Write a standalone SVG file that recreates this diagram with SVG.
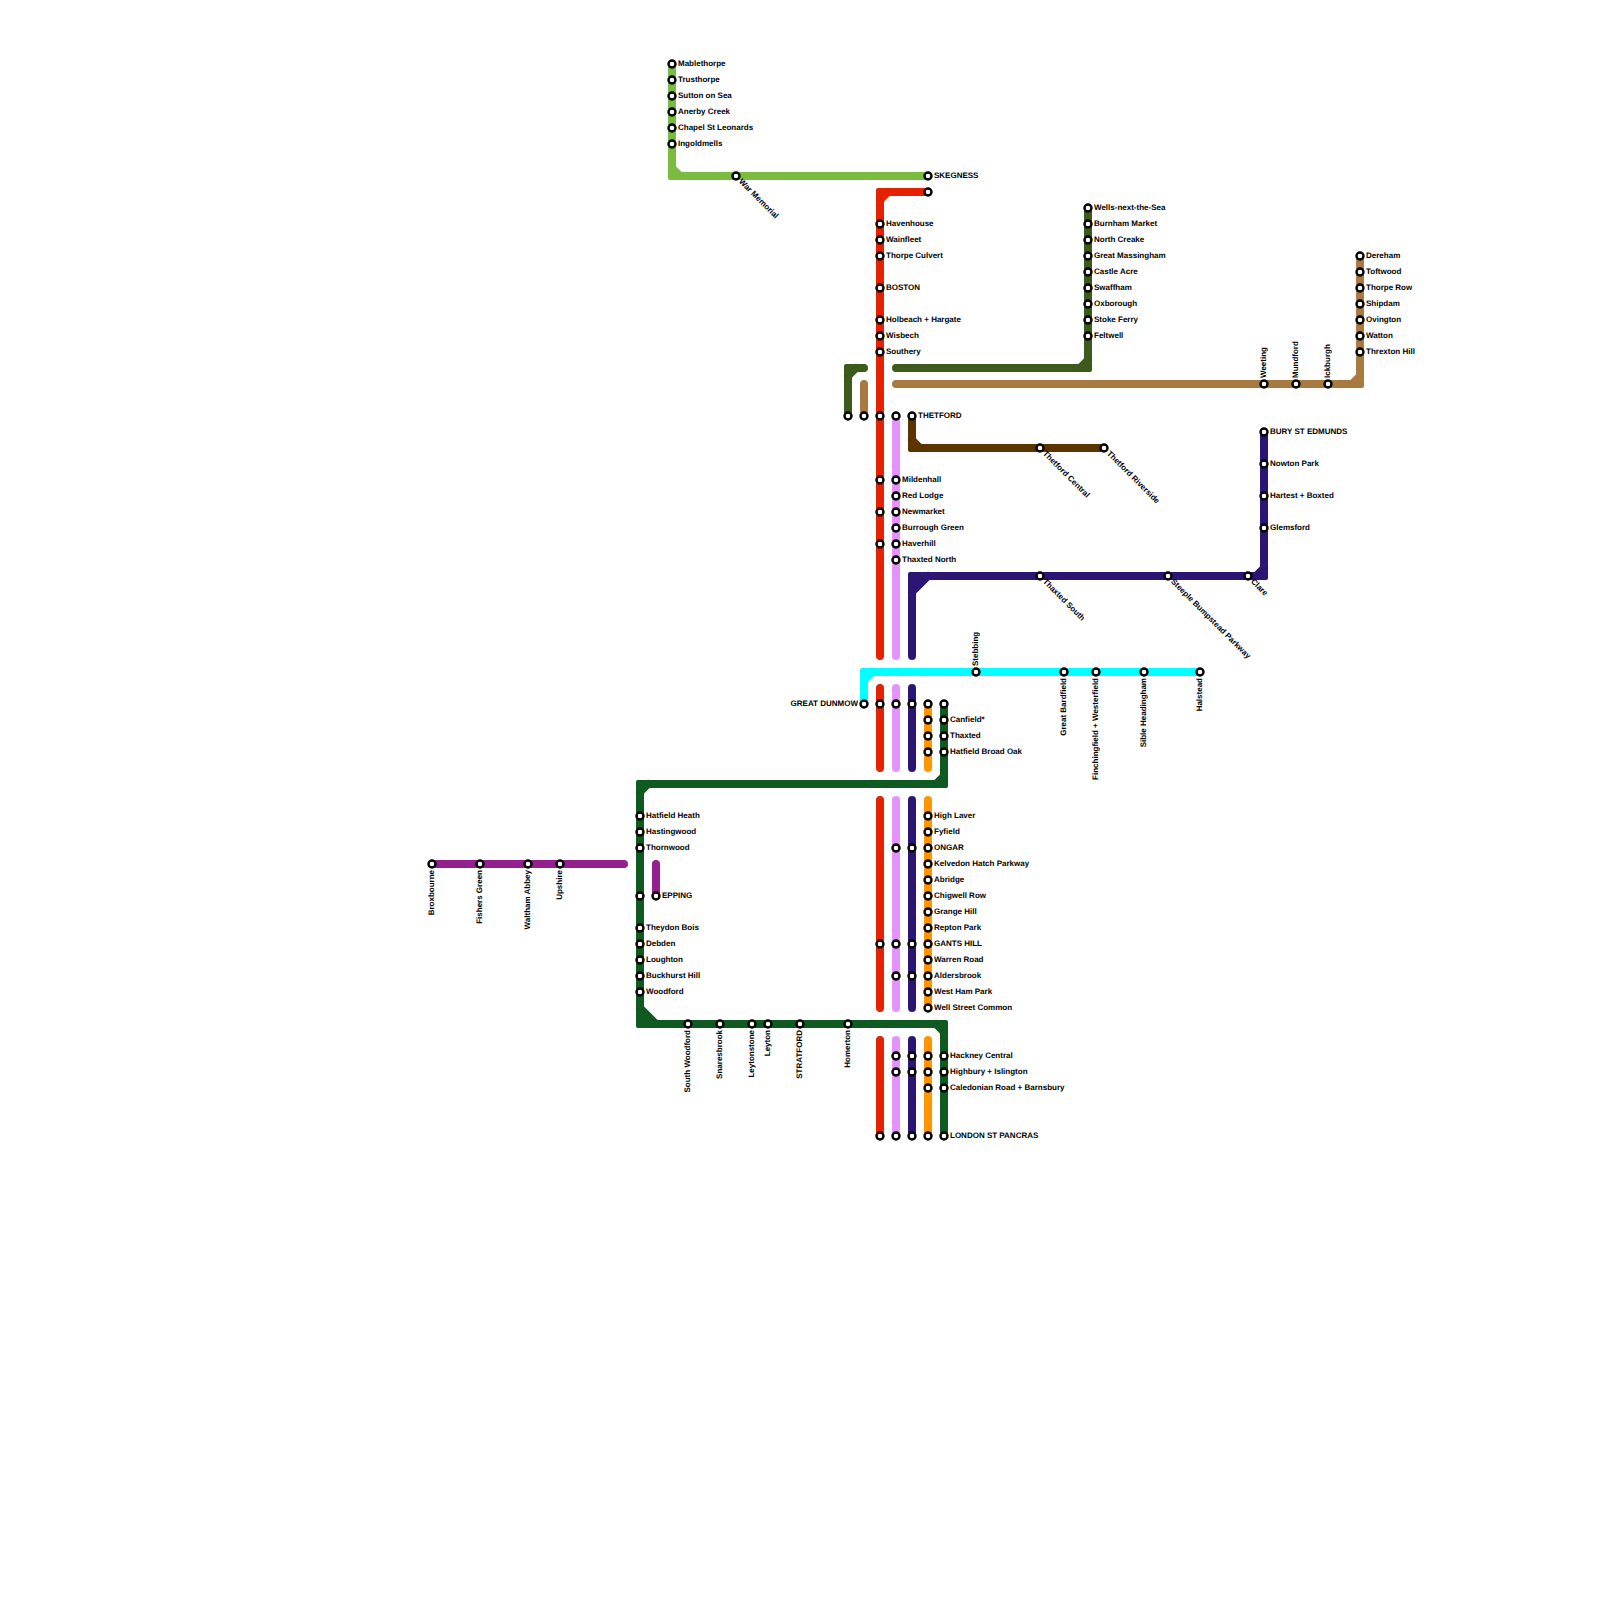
<svg xmlns="http://www.w3.org/2000/svg" width="1600" height="1600" viewBox="0 0 1600 1600">
<style>
.l path{fill:none;stroke-width:8;stroke-linecap:round;stroke-linejoin:round}
.l rect{width:8px;height:8px;rx:2px;ry:2px;stroke:none}
.lg path{stroke:#79bc40}.lg rect{fill:#79bc40}
.red path{stroke:#e52200}.red rect{fill:#e52200}
.moss path{stroke:#3c5a1c}.moss rect{fill:#3c5a1c}
.brn path{stroke:#a97a40}.brn rect{fill:#a97a40}
.dbr path{stroke:#5b3400}.dbr rect{fill:#5b3400}
.vio path{stroke:#e393fb}
.ind path{stroke:#2d1573}.ind rect,.ind polygon{fill:#2d1573}
.cya path{stroke:#00ffff}.cya rect{fill:#00ffff}
.org path{stroke:#ff9500}
.grn path{stroke:#0e5a20}.grn rect,.grn polygon{fill:#0e5a20}
.pur path{stroke:#92208f}
.n circle{fill:#fff;stroke:#000;stroke-width:2.4;r:3.5px}
.n text{font-family:"Liberation Sans",Arial,sans-serif;font-size:8px;font-weight:700;fill:#000;text-rendering:geometricPrecision}
.e{text-anchor:end}
</style>
<g id="connectors">
<g id="line-lightgreen" class="l lg"><path d="M672 64V176H928M672 168L680 176"/><rect x="668" y="172"/></g>
<g id="line-red" class="l red"><path d="M928 192H880V656M880 200L888 192M880 688V768M880 800V1008M880 1040V1136"/><rect x="876" y="188"/></g>
<g id="line-moss" class="l moss"><path d="M848 416V368H864M848 376L856 368M896 368H1088V208M1080 368L1088 360"/><rect x="844" y="364"/><rect x="1084" y="364"/></g>
<g id="line-brown" class="l brn"><path d="M864 384V416M896 384H1360V256M1352 384L1360 376"/><rect x="1356" y="380"/></g>
<g id="line-darkbrown" class="l dbr"><path d="M912 416V448H1104M912 440L920 448"/><rect x="908" y="444"/></g>
<g id="line-violet" class="l vio"><path d="M896 416V656M896 688V768M896 800V1008M896 1040V1136"/></g>
<g id="line-indigo" class="l ind"><polygon points="912,576 928,576 912,592"/><path d="M1264 432V576H912V656M912 592L928 576M1256 576L1264 568M912 688V768M912 800V1008M912 1040V1136"/><rect x="908" y="572"/><rect x="1260" y="572"/></g>
<g id="line-cyan" class="l cya"><path d="M864 704V672H1200M864 680L872 672"/><rect x="860" y="668"/></g>
<g id="line-orange" class="l org"><path d="M928 704V768M928 800V1008M928 1040V1136"/></g>
<g id="line-green" class="l grn"><polygon points="640,1008 656,1024 640,1024"/><path d="M944 704V784H640V1024H944V1136M936 784L944 776M640 792L648 784M640 1008L656 1024M936 1024L944 1032"/><rect x="940" y="780"/><rect x="636" y="780"/><rect x="636" y="1020"/><rect x="940" y="1020"/></g>
<g id="line-purple" class="l pur"><path d="M432 864H624M656 864V896"/></g>
</g>
<g id="nodes">
<g id="n1" class="n"><circle cx="672" cy="64"/><text x="678" y="65.5">Mablethorpe</text></g>
<g id="n2" class="n"><circle cx="672" cy="80"/><text x="678" y="81.5">Trusthorpe</text></g>
<g id="n3" class="n"><circle cx="672" cy="96"/><text x="678" y="97.5">Sutton on Sea</text></g>
<g id="n4" class="n"><circle cx="672" cy="112"/><text x="678" y="113.5">Anerby Creek</text></g>
<g id="n5" class="n"><circle cx="672" cy="128"/><text x="678" y="129.5">Chapel St Leonards</text></g>
<g id="n6" class="n"><circle cx="672" cy="144"/><text x="678" y="145.5">Ingoldmells</text></g>
<g id="n7" class="n"><circle cx="736" cy="176"/><text transform="translate(738.5 182) rotate(45)">War Memorial</text></g>
<g id="n8" class="n"><circle cx="928" cy="176"/><text x="934" y="177.5">SKEGNESS</text></g>
<g id="n9" class="n"><circle cx="928" cy="192"/></g>
<g id="n10" class="n"><circle cx="880" cy="224"/><text x="886" y="225.5">Havenhouse</text></g>
<g id="n11" class="n"><circle cx="880" cy="240"/><text x="886" y="241.5">Wainfleet</text></g>
<g id="n12" class="n"><circle cx="880" cy="256"/><text x="886" y="257.5">Thorpe Culvert</text></g>
<g id="n13" class="n"><circle cx="880" cy="288"/><text x="886" y="289.5">BOSTON</text></g>
<g id="n14" class="n"><circle cx="880" cy="320"/><text x="886" y="321.5">Holbeach + Hargate</text></g>
<g id="n15" class="n"><circle cx="880" cy="336"/><text x="886" y="337.5">Wisbech</text></g>
<g id="n16" class="n"><circle cx="880" cy="352"/><text x="886" y="353.5">Southery</text></g>
<g id="n17" class="n"><circle cx="1088" cy="208"/><text x="1094" y="209.5">Wells-next-the-Sea</text></g>
<g id="n18" class="n"><circle cx="1088" cy="224"/><text x="1094" y="225.5">Burnham Market</text></g>
<g id="n19" class="n"><circle cx="1088" cy="240"/><text x="1094" y="241.5">North Creake</text></g>
<g id="n20" class="n"><circle cx="1088" cy="256"/><text x="1094" y="257.5">Great Massingham</text></g>
<g id="n21" class="n"><circle cx="1088" cy="272"/><text x="1094" y="273.5">Castle Acre</text></g>
<g id="n22" class="n"><circle cx="1088" cy="288"/><text x="1094" y="289.5">Swaffham</text></g>
<g id="n23" class="n"><circle cx="1088" cy="304"/><text x="1094" y="305.5">Oxborough</text></g>
<g id="n24" class="n"><circle cx="1088" cy="320"/><text x="1094" y="321.5">Stoke Ferry</text></g>
<g id="n25" class="n"><circle cx="1088" cy="336"/><text x="1094" y="337.5">Feltwell</text></g>
<g id="n26" class="n"><circle cx="1360" cy="256"/><text x="1366" y="257.5">Dereham</text></g>
<g id="n27" class="n"><circle cx="1360" cy="272"/><text x="1366" y="273.5">Toftwood</text></g>
<g id="n28" class="n"><circle cx="1360" cy="288"/><text x="1366" y="289.5">Thorpe Row</text></g>
<g id="n29" class="n"><circle cx="1360" cy="304"/><text x="1366" y="305.5">Shipdam</text></g>
<g id="n30" class="n"><circle cx="1360" cy="320"/><text x="1366" y="321.5">Ovington</text></g>
<g id="n31" class="n"><circle cx="1360" cy="336"/><text x="1366" y="337.5">Watton</text></g>
<g id="n32" class="n"><circle cx="1360" cy="352"/><text x="1366" y="353.5">Threxton Hill</text></g>
<g id="n33" class="n"><circle cx="1264" cy="384"/><text transform="translate(1265.5 378) rotate(-90)">Weeting</text></g>
<g id="n34" class="n"><circle cx="1296" cy="384"/><text transform="translate(1297.5 378) rotate(-90)">Mundford</text></g>
<g id="n35" class="n"><circle cx="1328" cy="384"/><text transform="translate(1329.5 378) rotate(-90)">Ickburgh</text></g>
<g id="n36" class="n"><circle cx="848" cy="416"/></g>
<g id="n37" class="n"><circle cx="864" cy="416"/></g>
<g id="n38" class="n"><circle cx="880" cy="416"/></g>
<g id="n39" class="n"><circle cx="896" cy="416"/></g>
<g id="n40" class="n"><circle cx="912" cy="416"/><text x="918" y="417.5">THETFORD</text></g>
<g id="n41" class="n"><circle cx="1040" cy="448"/><text transform="translate(1042.5 454) rotate(45)">Thetford Central</text></g>
<g id="n42" class="n"><circle cx="1104" cy="448"/><text transform="translate(1106.5 454) rotate(45)">Thetford Riverside</text></g>
<g id="n43" class="n"><circle cx="1264" cy="432"/><text x="1270" y="433.5">BURY ST EDMUNDS</text></g>
<g id="n44" class="n"><circle cx="1264" cy="464"/><text x="1270" y="465.5">Nowton Park</text></g>
<g id="n45" class="n"><circle cx="1264" cy="496"/><text x="1270" y="497.5">Hartest + Boxted</text></g>
<g id="n46" class="n"><circle cx="1264" cy="528"/><text x="1270" y="529.5">Glemsford</text></g>
<g id="n47" class="n"><circle cx="880" cy="480"/></g>
<g id="n48" class="n"><circle cx="880" cy="512"/></g>
<g id="n49" class="n"><circle cx="880" cy="544"/></g>
<g id="n50" class="n"><circle cx="896" cy="480"/><text x="902" y="481.5">Mildenhall</text></g>
<g id="n51" class="n"><circle cx="896" cy="496"/><text x="902" y="497.5">Red Lodge</text></g>
<g id="n52" class="n"><circle cx="896" cy="512"/><text x="902" y="513.5">Newmarket</text></g>
<g id="n53" class="n"><circle cx="896" cy="528"/><text x="902" y="529.5">Burrough Green</text></g>
<g id="n54" class="n"><circle cx="896" cy="544"/><text x="902" y="545.5">Haverhill</text></g>
<g id="n55" class="n"><circle cx="896" cy="560"/><text x="902" y="561.5">Thaxted North</text></g>
<g id="n56" class="n"><circle cx="1040" cy="576"/><text transform="translate(1042.5 582) rotate(45)">Thaxted South</text></g>
<g id="n57" class="n"><circle cx="1168" cy="576"/><text transform="translate(1170.5 582) rotate(45)">Steeple Bumpstead Parkway</text></g>
<g id="n58" class="n"><circle cx="1248" cy="576"/><text transform="translate(1250.5 582) rotate(45)">Clare</text></g>
<g id="n59" class="n"><circle cx="976" cy="672"/><text transform="translate(977.5 666) rotate(-90)">Stebbing</text></g>
<g id="n60" class="n"><circle cx="1064" cy="672"/><text class="e" transform="translate(1065.5 678) rotate(-90)">Great Bardfield</text></g>
<g id="n61" class="n"><circle cx="1096" cy="672"/><text class="e" transform="translate(1097.5 678) rotate(-90)">Finchingfield + Westerfield</text></g>
<g id="n62" class="n"><circle cx="1144" cy="672"/><text class="e" transform="translate(1145.5 678) rotate(-90)">Sible Headingham</text></g>
<g id="n63" class="n"><circle cx="1200" cy="672"/><text class="e" transform="translate(1201.5 678) rotate(-90)">Halstead</text></g>
<g id="n64" class="n"><circle cx="864" cy="704"/><text class="e" x="858" y="705.5">GREAT DUNMOW</text></g>
<g id="n65" class="n"><circle cx="880" cy="704"/></g>
<g id="n66" class="n"><circle cx="896" cy="704"/></g>
<g id="n67" class="n"><circle cx="912" cy="704"/></g>
<g id="n68" class="n"><circle cx="928" cy="704"/></g>
<g id="n69" class="n"><circle cx="928" cy="720"/></g>
<g id="n70" class="n"><circle cx="928" cy="736"/></g>
<g id="n71" class="n"><circle cx="928" cy="752"/></g>
<g id="n72" class="n"><circle cx="944" cy="704"/></g>
<g id="n73" class="n"><circle cx="944" cy="720"/><text x="950" y="721.5">Canfield*</text></g>
<g id="n74" class="n"><circle cx="944" cy="736"/><text x="950" y="737.5">Thaxted</text></g>
<g id="n75" class="n"><circle cx="944" cy="752"/><text x="950" y="753.5">Hatfield Broad Oak</text></g>
<g id="n76" class="n"><circle cx="928" cy="816"/><text x="934" y="817.5">High Laver</text></g>
<g id="n77" class="n"><circle cx="928" cy="832"/><text x="934" y="833.5">Fyfield</text></g>
<g id="n78" class="n"><circle cx="928" cy="848"/><text x="934" y="849.5">ONGAR</text></g>
<g id="n79" class="n"><circle cx="928" cy="864"/><text x="934" y="865.5">Kelvedon Hatch Parkway</text></g>
<g id="n80" class="n"><circle cx="928" cy="880"/><text x="934" y="881.5">Abridge</text></g>
<g id="n81" class="n"><circle cx="928" cy="896"/><text x="934" y="897.5">Chigwell Row</text></g>
<g id="n82" class="n"><circle cx="928" cy="912"/><text x="934" y="913.5">Grange Hill</text></g>
<g id="n83" class="n"><circle cx="928" cy="928"/><text x="934" y="929.5">Repton Park</text></g>
<g id="n84" class="n"><circle cx="928" cy="944"/><text x="934" y="945.5">GANTS HILL</text></g>
<g id="n85" class="n"><circle cx="928" cy="960"/><text x="934" y="961.5">Warren Road</text></g>
<g id="n86" class="n"><circle cx="928" cy="976"/><text x="934" y="977.5">Aldersbrook</text></g>
<g id="n87" class="n"><circle cx="928" cy="992"/><text x="934" y="993.5">West Ham Park</text></g>
<g id="n88" class="n"><circle cx="928" cy="1008"/><text x="934" y="1009.5">Well Street Common</text></g>
<g id="n89" class="n"><circle cx="896" cy="848"/></g>
<g id="n90" class="n"><circle cx="912" cy="848"/></g>
<g id="n91" class="n"><circle cx="880" cy="944"/></g>
<g id="n92" class="n"><circle cx="896" cy="944"/></g>
<g id="n93" class="n"><circle cx="912" cy="944"/></g>
<g id="n94" class="n"><circle cx="896" cy="976"/></g>
<g id="n95" class="n"><circle cx="912" cy="976"/></g>
<g id="n96" class="n"><circle cx="432" cy="864"/><text class="e" transform="translate(433.5 870) rotate(-90)">Broxbourne</text></g>
<g id="n97" class="n"><circle cx="480" cy="864"/><text class="e" transform="translate(481.5 870) rotate(-90)">Fishers Green</text></g>
<g id="n98" class="n"><circle cx="528" cy="864"/><text class="e" transform="translate(529.5 870) rotate(-90)">Waltham Abbey</text></g>
<g id="n99" class="n"><circle cx="560" cy="864"/><text class="e" transform="translate(561.5 870) rotate(-90)">Upshire</text></g>
<g id="n100" class="n"><circle cx="656" cy="896"/><text x="662" y="897.5">EPPING</text></g>
<g id="n101" class="n"><circle cx="640" cy="816"/><text x="646" y="817.5">Hatfield Heath</text></g>
<g id="n102" class="n"><circle cx="640" cy="832"/><text x="646" y="833.5">Hastingwood</text></g>
<g id="n103" class="n"><circle cx="640" cy="848"/><text x="646" y="849.5">Thornwood</text></g>
<g id="n104" class="n"><circle cx="640" cy="896"/></g>
<g id="n105" class="n"><circle cx="640" cy="928"/><text x="646" y="929.5">Theydon Bois</text></g>
<g id="n106" class="n"><circle cx="640" cy="944"/><text x="646" y="945.5">Debden</text></g>
<g id="n107" class="n"><circle cx="640" cy="960"/><text x="646" y="961.5">Loughton</text></g>
<g id="n108" class="n"><circle cx="640" cy="976"/><text x="646" y="977.5">Buckhurst Hill</text></g>
<g id="n109" class="n"><circle cx="640" cy="992"/><text x="646" y="993.5">Woodford</text></g>
<g id="n110" class="n"><circle cx="688" cy="1024"/><text class="e" transform="translate(689.5 1030) rotate(-90)">South Woodford</text></g>
<g id="n111" class="n"><circle cx="720" cy="1024"/><text class="e" transform="translate(721.5 1030) rotate(-90)">Snaresbrook</text></g>
<g id="n112" class="n"><circle cx="752" cy="1024"/><text class="e" transform="translate(753.5 1030) rotate(-90)">Leytonstone</text></g>
<g id="n113" class="n"><circle cx="768" cy="1024"/><text class="e" transform="translate(769.5 1030) rotate(-90)">Leyton</text></g>
<g id="n114" class="n"><circle cx="800" cy="1024"/><text class="e" transform="translate(801.5 1030) rotate(-90)">STRATFORD</text></g>
<g id="n115" class="n"><circle cx="848" cy="1024"/><text class="e" transform="translate(849.5 1030) rotate(-90)">Homerton</text></g>
<g id="n116" class="n"><circle cx="896" cy="1056"/></g>
<g id="n117" class="n"><circle cx="912" cy="1056"/></g>
<g id="n118" class="n"><circle cx="928" cy="1056"/></g>
<g id="n119" class="n"><circle cx="944" cy="1056"/><text x="950" y="1057.5">Hackney Central</text></g>
<g id="n120" class="n"><circle cx="896" cy="1072"/></g>
<g id="n121" class="n"><circle cx="912" cy="1072"/></g>
<g id="n122" class="n"><circle cx="928" cy="1072"/></g>
<g id="n123" class="n"><circle cx="944" cy="1072"/><text x="950" y="1073.5">Highbury + Islington</text></g>
<g id="n124" class="n"><circle cx="928" cy="1088"/></g>
<g id="n125" class="n"><circle cx="944" cy="1088"/><text x="950" y="1089.5">Caledonian Road + Barnsbury</text></g>
<g id="n126" class="n"><circle cx="880" cy="1136"/></g>
<g id="n127" class="n"><circle cx="896" cy="1136"/></g>
<g id="n128" class="n"><circle cx="912" cy="1136"/></g>
<g id="n129" class="n"><circle cx="928" cy="1136"/></g>
<g id="n130" class="n"><circle cx="944" cy="1136"/><text x="950" y="1137.5">LONDON ST PANCRAS</text></g>
</g>
</svg>
